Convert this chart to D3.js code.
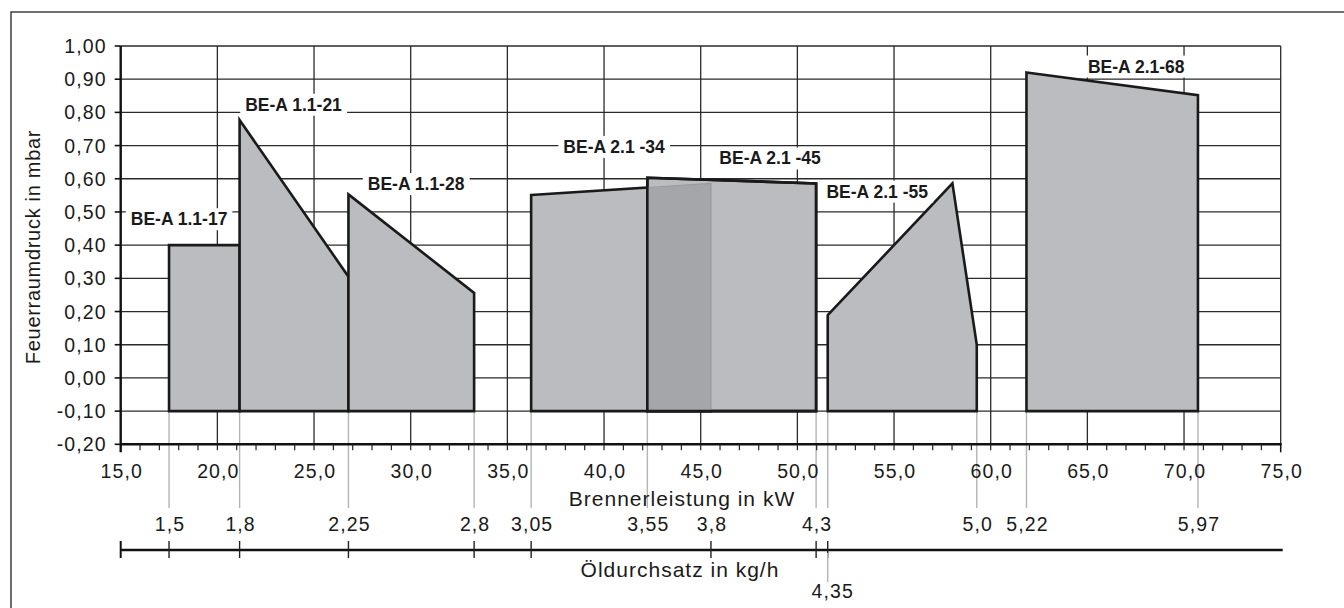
<!DOCTYPE html>
<html><head><meta charset="utf-8">
<script src="https://cdn.jsdelivr.net/npm/d3@7"></script>
<style>html,body{margin:0;padding:0;background:#fff;}svg{display:block;font-family:"Liberation Sans",Arial,sans-serif;}</style>
</head><body>
<svg id="c" width="1344" height="608"></svg>
<script>
// ---- data ----
const kwTicks = [15,20,25,30,35,40,45,50,55,60,65,70,75];
const kwTickLabels = ["15,0","20,0","25,0","30,0","35,0","40,0","45,0","50,0","55,0","60,0","65,0","70,0","75,0"];
const mbarTicks = [-0.2,-0.1,0,0.1,0.2,0.3,0.4,0.5,0.6,0.7,0.8,0.9,1.0];
const mbarTickLabels = ["-0,20","-0,10","0,00","0,10","0,20","0,30","0,40","0,50","0,60","0,70","0,80","0,90","1,00"];
// oil throughput (kg/h) and the burner output (kW) each corresponds to
const oilLabels = ["1,5","1,8","2,25","2,8","3,05","3,55","3,8","4,3","4,35","5,0","5,22","5,97"];
const oilKW     = [17.5, 21.15, 26.78, 33.28, 36.23, 42.24, 45.53, 50.97, 51.57, 59.28, 61.85, 70.72];
const oilGuide  = [true,true,true,true,true,true,false,true,true,true,true,true];
const oilTick   = [true,true,true,true,true,false,true,true,true,false,false,false];
// burner models: upper outline of each operating range [kW, mbar]; lower limit -0.10 mbar
const models = ["BE-A 1.1-17","BE-A 1.1-21","BE-A 1.1-28","BE-A 2.1 -34","BE-A 2.1 -45","BE-A 2.1 -55","BE-A 2.1-68"];
const modelTops = [
  [[17.5,0.40],[21.15,0.40]],
  [[21.15,0.777],[26.78,0.305]],
  [[26.78,0.553],[33.28,0.256]],
  [[36.23,0.551],[45.53,0.586]],
  [[42.24,0.603],[50.97,0.586]],
  [[51.57,0.189],[58.02,0.586],[59.28,0.10]],
  [[61.85,0.92],[70.72,0.852]]
];
const bottomMbar = -0.10;
const labelKW   = [18.02, 23.94, 30.28, 40.52, 48.59, 54.13, 67.53];
const labelMbar = [0.46, 0.805, 0.566, 0.678, 0.643, 0.543, 0.92];

// ---- drawing ----
const svg = d3.select("#c");
const x = d3.scaleLinear().domain([15,75]).range([120.7,1280.7]);
const y = d3.scaleLinear().domain([-0.2,1.0]).range([444.3,46]);
const x0 = x(15), x1 = x(75), yTop = y(1.0), yBot = y(-0.2);

// outer frame
svg.append("rect").attr("x",11).attr("y",12).attr("width",1340).attr("height",640)
  .attr("fill","none").attr("stroke","#222").attr("stroke-width",1.3);

// grid
const g = svg.append("g");
g.selectAll("line.h").data(mbarTicks.filter(v=>v>-0.15)).join("line")
  .attr("x1",x0).attr("x2",x1).attr("y1",d=>y(d)).attr("y2",d=>y(d))
  .attr("stroke","#2a2a2a").attr("stroke-width",1.3);
g.selectAll("line.v").data(kwTicks.filter(v=>v>15)).join("line")
  .attr("x1",d=>x(d)).attr("x2",d=>x(d)).attr("y1",yTop).attr("y2",yBot)
  .attr("stroke","#2a2a2a").attr("stroke-width",1.3);

// guide lines (light grey) from bottom of areas to the oil labels
svg.selectAll("line.guide").data(oilKW.filter((d,i)=>oilGuide[i])).join("line")
  .attr("x1",d=>x(d)).attr("x2",d=>x(d)).attr("y1",y(bottomMbar)).attr("y2",508)
  .attr("stroke","#b4b4b4").attr("stroke-width",1.4);

// polygons
const poly = pts => d3.line()(pts.map(p=>[x(p[0]),y(p[1])]).concat([[x(pts[pts.length-1][0]),y(bottomMbar)],[x(pts[0][0]),y(bottomMbar)]])) + "Z";
svg.selectAll("path.area").data(modelTops).join("path")
  .attr("d",poly).attr("fill","#bbbcc0").attr("stroke","#1a1a1a").attr("stroke-width",2.6).attr("stroke-linejoin","miter");

// overlap of BE-A 2.1-34 and 2.1-45
(function(){
  const a = modelTops[3], b = modelTops[4];
  const xs = b[0][0], xe = a[a.length-1][0];
  const interp = d3.scaleLinear().domain([a[0][0],a[1][0]]).range([a[0][1],a[1][1]]);
  const pts = [[xs,interp(xs)],[xe,interp(xe)]];
  svg.append("path").attr("d",poly(pts)).attr("fill","#a5a6aa").attr("stroke","#9a9a9e").attr("stroke-width",1.2);
  svg.append("path").attr("d",poly(b)).attr("fill","none").attr("stroke","#1a1a1a").attr("stroke-width",2.6);
})();

// axes
const axisG = svg.append("g");
axisG.append("line").attr("x1",x0).attr("x2",x1+1).attr("y1",yBot).attr("y2",yBot).attr("stroke","#111").attr("stroke-width",2.4);
axisG.append("line").attr("x1",x0).attr("x2",x0).attr("y1",yTop).attr("y2",yBot+8).attr("stroke","#111").attr("stroke-width",2.4);
axisG.append("line").attr("x1",x1).attr("x2",x1).attr("y1",yBot).attr("y2",yBot+8).attr("stroke","#111").attr("stroke-width",1.5);
axisG.selectAll("line.mx").data(d3.range(16,75,1)).join("line")
  .attr("x1",d=>x(d)).attr("x2",d=>x(d)).attr("y1",yBot).attr("y2",yBot+6)
  .attr("stroke","#222").attr("stroke-width",1.2);
axisG.selectAll("line.ty").data(mbarTicks).join("line")
  .attr("x1",x0-6).attr("x2",x0).attr("y1",d=>y(d)).attr("y2",d=>y(d))
  .attr("stroke","#111").attr("stroke-width",1.6);

const tickFont = {"font-size":"19.5px","letter-spacing":"1.1px","fill":"#1a1a1a"};
function sty(sel,o){for(const k in o) sel.style(k,o[k]); return sel;}
sty(svg.selectAll("text.yl").data(mbarTicks).join("text")
  .attr("x",x0-14).attr("y",d=>y(d)+7).attr("text-anchor","end").text((d,i)=>mbarTickLabels[i]),tickFont);
sty(svg.selectAll("text.xl").data(kwTicks).join("text")
  .attr("x",d=>x(d)+1).attr("y",478).attr("text-anchor","middle").text((d,i)=>kwTickLabels[i]),tickFont);

// axis titles
sty(svg.append("text").attr("transform","translate(40,247) rotate(-90)").attr("text-anchor","middle")
  .text("Feuerraumdruck in mbar"),{"font-size":"20px","letter-spacing":"0.7px","fill":"#1a1a1a"});
sty(svg.append("text").attr("x",682).attr("y",506).attr("text-anchor","middle")
  .text("Brennerleistung in kW"),{"font-size":"21px","letter-spacing":"1px","fill":"#1a1a1a"});
sty(svg.append("text").attr("x",680).attr("y",577).attr("text-anchor","middle")
  .text("Öldurchsatz in kg/h"),{"font-size":"21px","letter-spacing":"1px","fill":"#1a1a1a"});

// oil throughput axis
const yo = 550;
svg.append("line").attr("x1",x0).attr("x2",x1+2).attr("y1",yo).attr("y2",yo).attr("stroke","#111").attr("stroke-width",2.4);
svg.append("line").attr("x1",x0).attr("x2",x0).attr("y1",yo-9).attr("y2",yo+8).attr("stroke","#111").attr("stroke-width",2);
svg.selectAll("line.ot").data(oilKW.filter((d,i)=>oilTick[i])).join("line")
  .attr("x1",d=>x(d)).attr("x2",d=>x(d)).attr("y1",yo-9).attr("y2",yo+8)
  .attr("stroke","#222").attr("stroke-width",1.4);
const i435 = oilLabels.indexOf("4,35");
svg.append("line").attr("x1",x(oilKW[i435])).attr("x2",x(oilKW[i435])).attr("y1",yo+3).attr("y2",582)
  .attr("stroke","#b4b4b4").attr("stroke-width",1.4);
sty(svg.selectAll("text.ol").data(oilKW).join("text")
  .attr("x",(d,i)=>i===i435 ? x(d)+5 : x(d)+1)
  .attr("y",(d,i)=>i===i435 ? 598 : 531)
  .attr("text-anchor","middle").text((d,i)=>oilLabels[i]),tickFont);

// model labels with white backgrounds
const lab = svg.append("g");
models.forEach((m,i)=>{
  const t = lab.append("text").attr("x",x(labelKW[i])).attr("y",y(labelMbar[i]))
    .attr("text-anchor","middle").style("font-size","17.5px").style("font-weight","bold").style("fill","#1a1a1a").text(m);
  const bb = t.node().getBBox();
  lab.insert("rect","text").attr("x",bb.x-5).attr("y",bb.y-1).attr("width",bb.width+10).attr("height",bb.height+2).attr("fill","#fff");
});
</script>
</body></html>
